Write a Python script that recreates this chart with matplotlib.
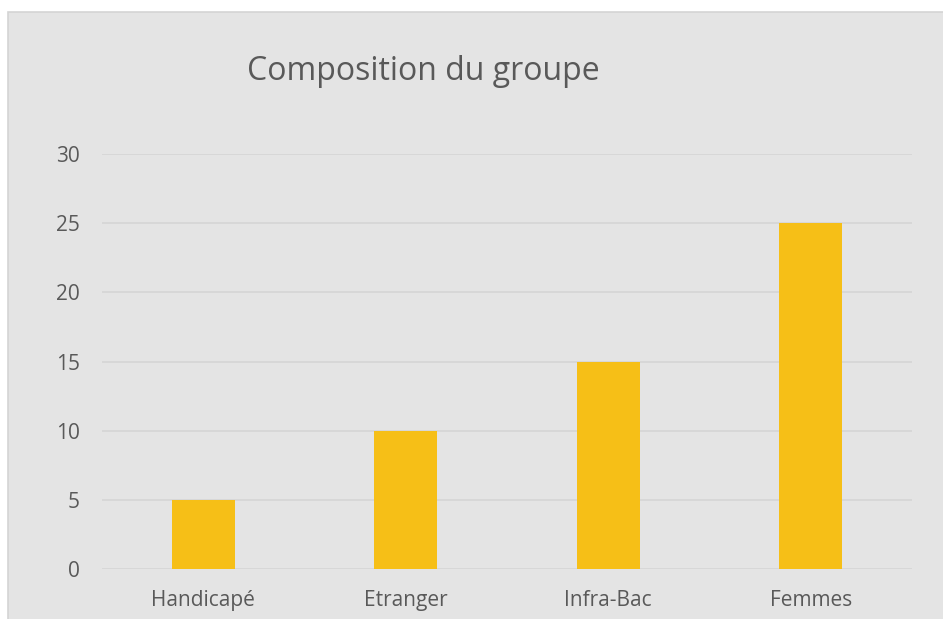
import matplotlib.pyplot as plt
from matplotlib.patches import Rectangle

categories = ['Handicapé', 'Etranger', 'Infra-Bac', 'Femmes']
values = [5, 10, 15, 25]
yticks = [0, 5, 10, 15, 20, 25, 30]

bg = '#e4e4e4'
bar_color = '#f6bf17'
text_color = '#595959'

plt.rcParams['font.family'] = ['Open Sans', 'DejaVu Sans']

fig = plt.figure(figsize=(9.43, 6.19), dpi=100)
fig.patch.set_facecolor('white')
W, H = 943, 619
# grey chart area with thin border, drawn behind the axes
fig.patches.append(Rectangle((8 / W, -0.01), 1.0, (619 - 12) / H + 0.01,
                             transform=fig.transFigure, facecolor=bg,
                             edgecolor='#d4d4d4', linewidth=1.2, zorder=-10))

ax = fig.add_axes([102 / W, (H - 569) / H, 810 / W, (569 - 154) / H])
ax.set_zorder(5)
ax.set_facecolor('none')
ax.bar(range(len(categories)), values, width=0.31, color=bar_color, zorder=3)
ax.set_xlim(-0.5, len(categories) - 0.5)
ax.set_ylim(0, 30)
ax.set_yticks(yticks)
ax.set_xticks(range(len(categories)))
ax.set_xticklabels(categories)
ax.yaxis.grid(True, color='#d6d6d6', linewidth=1.3, zorder=0)
ax.set_axisbelow(True)
for s in ax.spines.values():
    s.set_visible(False)
ax.tick_params(axis='both', length=0, labelsize=15, colors=text_color)
ax.tick_params(axis='y', pad=16)
ax.tick_params(axis='x', pad=15)

fig.text(423 / W, 1 - 72 / H, 'Composition du groupe', ha='center', va='center',
         fontsize=23, color=text_color, zorder=6)

fig.savefig('out.png', dpi=100)
